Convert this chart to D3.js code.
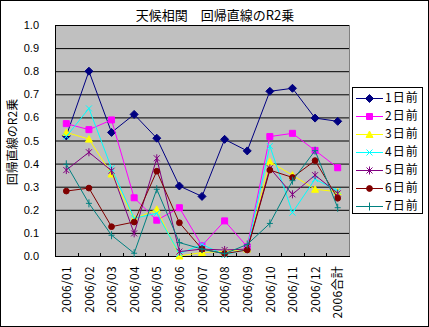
<!DOCTYPE html>
<html>
<head>
<meta charset="utf-8">
<script src="https://cdn.jsdelivr.net/npm/d3@7"></script>
<style>
  html, body { margin: 0; padding: 0; background: #fff; }
  svg { display: block; }
  text { font-family: "Liberation Sans", Arial, sans-serif; fill: #000; }
  .jp { font-family: "Noto Sans CJK JP", sans-serif; }
</style>
</head>
<body>
<svg id="chart" width="429" height="327"></svg>
<script>
// Month categories plus the yearly total
const categories = ["2006/01", "2006/02", "2006/03", "2006/04", "2006/05", "2006/06",
  "2006/07", "2006/08", "2006/09", "2006/10", "2006/11", "2006/12", "2006合計"];

// R² of the regression line, by how many days before
const day1 = [0.52, 0.80, 0.535, 0.613, 0.51, 0.303, 0.258, 0.505, 0.455, 0.713, 0.726, 0.597, 0.583];
const day2 = [0.573, 0.547, 0.589, 0.252, 0.155, 0.209, 0.045, 0.152, 0.04, 0.517, 0.531, 0.457, 0.382];
const day3 = [0.535, 0.506, 0.355, 0.16, 0.202, 0.0, 0.015, 0.02, 0.03, 0.408, 0.35, 0.289, 0.278];
const day4 = [0.517, 0.639, 0.38, 0.163, 0.185, 0.01, 0.05, 0.005, 0.03, 0.476, 0.188, 0.333, 0.281];
const day5 = [0.372, 0.449, 0.369, 0.098, 0.423, 0.019, 0.03, 0.026, 0.03, 0.38, 0.267, 0.35, 0.271];
const day6 = [0.281, 0.294, 0.127, 0.147, 0.367, 0.144, 0.03, 0.01, 0.026, 0.372, 0.34, 0.413, 0.25];
const day7 = [0.397, 0.228, 0.09, 0.012, 0.289, 0.058, 0.03, 0.01, 0.05, 0.141, 0.326, 0.456, 0.209];

const seriesNames = ["1日前", "2日前", "3日前", "4日前", "5日前", "6日前", "7日前"];
const seriesValues = [day1, day2, day3, day4, day5, day6, day7];
const seriesColors = ["#000080", "#FF00FF", "#FFFF00", "#00FFFF", "#800080", "#800000", "#008080"];
const markerKinds = ["diamond", "square", "triangle", "cross", "star", "circle", "plus"];

const yTicks = [0, 0.1, 0.2, 0.3, 0.4, 0.5, 0.6, 0.7, 0.8, 0.9, 1.0];
const titleText = "天候相関　回帰直線のR2乗";
const yTitle = "回帰直線のR2乗";

const svg = d3.select("#chart");
const W = 429, H = 327;
const plot = { left: 55, right: 349, top: 25, bottom: 256 };

// outer frame
svg.append("rect").attr("x", 0.5).attr("y", 0.5).attr("width", W - 1).attr("height", H - 1)
  .attr("fill", "#fff").attr("stroke", "#000");

const x = d3.scaleBand().domain(categories).range([plot.left, plot.right]).padding(0);
const y = d3.scaleLinear().domain([0, 1]).range([plot.bottom, plot.top]);
const cx = c => x(c) + x.bandwidth() / 2;

// plot background
svg.append("rect").attr("x", plot.left).attr("y", plot.top)
  .attr("width", plot.right - plot.left).attr("height", plot.bottom - plot.top)
  .attr("fill", "#C0C0C0");

// right border of plot area
svg.append("line").attr("x1", plot.right + 0.5).attr("x2", plot.right + 0.5)
  .attr("y1", plot.top).attr("y2", plot.bottom).attr("stroke", "#808080");

// y axis with gridlines
const yAxis = svg.append("g").attr("transform", `translate(${plot.left},0)`)
  .call(d3.axisLeft(y).tickValues(yTicks).tickFormat(d3.format(".1f"))
    .tickSize(-(plot.right - plot.left)).tickPadding(16));
yAxis.select(".domain").attr("stroke", "#000").attr("d", `M0.5,${plot.top}V${plot.bottom}`);
yAxis.selectAll(".tick line").attr("stroke", "#000").attr("x1", 0.5);
yAxis.selectAll(".tick text").attr("font-size", 11).attr("x", -16)
  .style("font-family", "'Liberation Sans', Arial, sans-serif");

// x axis with inward ticks between categories
const xAxisG = svg.append("g").attr("transform", `translate(0,${plot.bottom})`);
xAxisG.append("line").attr("x1", plot.left).attr("x2", plot.right + 1)
  .attr("y1", 0.5).attr("y2", 0.5).attr("stroke", "#000");
const boundaries = d3.range(1, categories.length).map(i => x(categories[i]));
xAxisG.selectAll("line.tk").data(boundaries).join("line").attr("class", "tk")
  .attr("x1", d => Math.round(d) + 0.5).attr("x2", d => Math.round(d) + 0.5)
  .attr("y1", 0).attr("y2", -3).attr("stroke", "#000");
xAxisG.selectAll("text").data(categories).join("text")
  .attr("class", "jp")
  .attr("transform", d => `translate(${cx(d) + 0.5},10) rotate(-90)`)
  .attr("text-anchor", "end").attr("dy", "0.35em")
  .attr("font-size", 12).attr("letter-spacing", 0.3)
  .text(d => d);

// markers
function markerPath(kind) {
  switch (kind) {
    case "diamond": return "M0,-4L4,0L0,4L-4,0Z";
    case "square": return "M-3,-3H3V3H-3Z";
    case "triangle": return "M0,-3.5L3.5,3L-3.5,3Z";
    case "circle": return d3.symbol(d3.symbolCircle, 26)();
    case "cross": return "M-3,-3L3,3M-3,3L3,-3";
    case "star": return "M-3,-3L3,3M-3,3L3,-3M0,-4V4";
    case "plus": return "M-3,0H3M0,-4V4";
  }
}
const filled = k => ["diamond", "square", "triangle", "circle"].includes(k);

const line = d3.line().x((d, i) => cx(categories[i])).y(d => y(d));

seriesValues.forEach((vals, s) => {
  const g = svg.append("g");
  g.append("path").datum(vals).attr("d", line).attr("fill", "none")
    .attr("stroke", seriesColors[s]).attr("stroke-width", 1);
  g.selectAll("path.m").data(vals).join("path").attr("class", "m")
    .attr("transform", (d, i) => `translate(${cx(categories[i])},${y(d)})`)
    .attr("d", markerPath(markerKinds[s]))
    .attr("fill", filled(markerKinds[s]) ? seriesColors[s] : "none")
    .attr("stroke", seriesColors[s]).attr("stroke-width", 1);
});

// title
svg.append("text").attr("class", "jp").attr("x", 215).attr("y", 20)
  .attr("text-anchor", "middle").attr("font-size", 13).text(titleText);

// y axis title
svg.append("text").attr("class", "jp")
  .attr("transform", `translate(17,142) rotate(-90)`)
  .attr("text-anchor", "middle").attr("font-size", 12).text(yTitle);

// legend
const lg = svg.append("g");
lg.append("rect").attr("x", 352.5).attr("y", 87.5).attr("width", 70).attr("height", 126)
  .attr("fill", "#fff").attr("stroke", "#000");
seriesNames.forEach((name, s) => {
  const ly = 98 + s * 18;
  lg.append("line").attr("x1", 356).attr("x2", 383).attr("y1", ly + 0.5).attr("y2", ly + 0.5)
    .attr("stroke", seriesColors[s]);
  lg.append("path").attr("transform", `translate(369.5,${ly + 0.5})`)
    .attr("d", markerPath(markerKinds[s]))
    .attr("fill", filled(markerKinds[s]) ? seriesColors[s] : "none")
    .attr("stroke", seriesColors[s]);
  lg.append("text").attr("class", "jp").attr("x", 385).attr("y", ly).attr("dy", "0.36em")
    .attr("font-size", 12).attr("letter-spacing", 1).text(name);
});
</script>
</body>
</html>
